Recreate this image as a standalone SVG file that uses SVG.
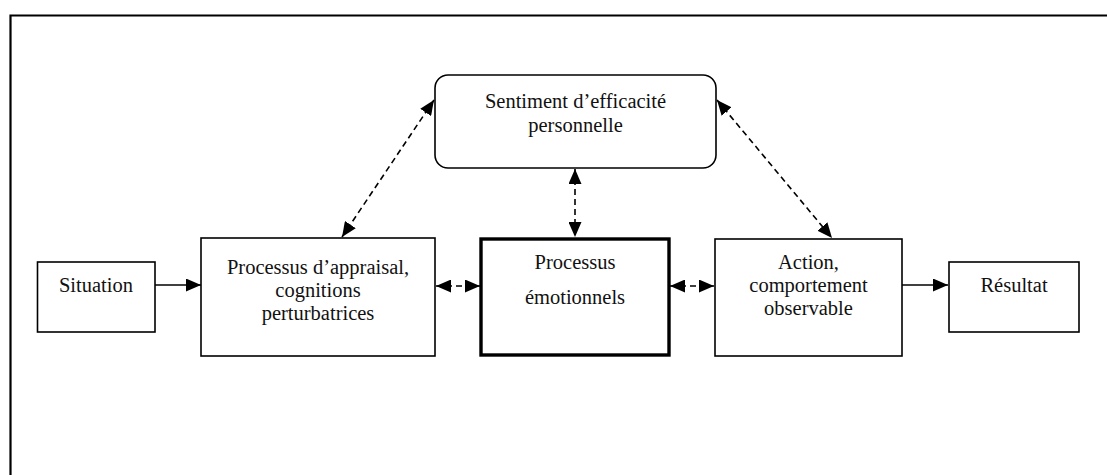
<svg xmlns="http://www.w3.org/2000/svg" width="1107" height="475" viewBox="0 0 1107 475">
  <style>
    .box { fill: #fff; stroke: #000; stroke-width: 1.6; }
    .bold { stroke-width: 3.4; }
    .lbl { font-family: "Liberation Serif", "Times New Roman", serif; font-size: 20.5px; fill: #111; text-anchor: middle; }
    .link { stroke: #000; stroke-width: 1.6; fill: none; }
    .dash { stroke-dasharray: 6 4; }
  </style>
  <defs>
    <marker id="head" markerUnits="userSpaceOnUse" markerWidth="15" markerHeight="13" viewBox="0 0 15 13" refX="15" refY="6.5" orient="auto-start-reverse">
      <path d="M0,0 L15,6.5 L0,13 z" fill="#000"/>
    </marker>
  </defs>

  <rect width="1107" height="475" fill="#fff"/>

  <!-- page frame: top and left rules only -->
  <path d="M10.5,475 V15.5 H1107" fill="none" stroke="#000" stroke-width="2.2"/>

  <g id="connectors">
    <line class="link" x1="155" y1="285" x2="201" y2="285" marker-end="url(#head)"/>
    <line class="link" x1="902" y1="285" x2="948" y2="285" marker-end="url(#head)"/>
    <line class="link dash" x1="436" y1="286" x2="480" y2="286" marker-start="url(#head)" marker-end="url(#head)"/>
    <line class="link dash" x1="670" y1="286" x2="714" y2="286" marker-start="url(#head)" marker-end="url(#head)"/>
    <line class="link dash" x1="575" y1="169" x2="575" y2="237" marker-start="url(#head)" marker-end="url(#head)"/>
    <line class="link dash" x1="434" y1="100" x2="342" y2="237" marker-start="url(#head)" marker-end="url(#head)"/>
    <line class="link dash" x1="717" y1="100" x2="832" y2="238" marker-start="url(#head)" marker-end="url(#head)"/>
  </g>

  <g id="efficacite">
    <rect class="box" x="435" y="75" width="281" height="93" rx="13"/>
    <text class="lbl" x="575.5" y="108">Sentiment d’efficacité</text>
    <text class="lbl" x="575.5" y="132">personnelle</text>
  </g>

  <g id="situation">
    <rect class="box" x="37.5" y="262" width="117.5" height="70"/>
    <text class="lbl" x="96" y="292">Situation</text>
  </g>

  <g id="appraisal">
    <rect class="box" x="201" y="238" width="234" height="118"/>
    <text class="lbl" x="318" y="274">Processus d’appraisal,</text>
    <text class="lbl" x="318" y="296.8">cognitions</text>
    <text class="lbl" x="318" y="319.6">perturbatrices</text>
  </g>

  <g id="emotionnels">
    <rect class="box bold" x="481" y="239" width="188" height="116"/>
    <text class="lbl" x="575" y="269">Processus</text>
    <text class="lbl" x="575" y="304">émotionnels</text>
  </g>

  <g id="action">
    <rect class="box" x="715" y="239" width="187" height="117"/>
    <text class="lbl" x="808.5" y="268.5">Action,</text>
    <text class="lbl" x="808.5" y="291.5">comportement</text>
    <text class="lbl" x="808.5" y="314.5">observable</text>
  </g>

  <g id="resultat">
    <rect class="box" x="949" y="262" width="130" height="70"/>
    <text class="lbl" x="1014" y="292">Résultat</text>
  </g>
</svg>
